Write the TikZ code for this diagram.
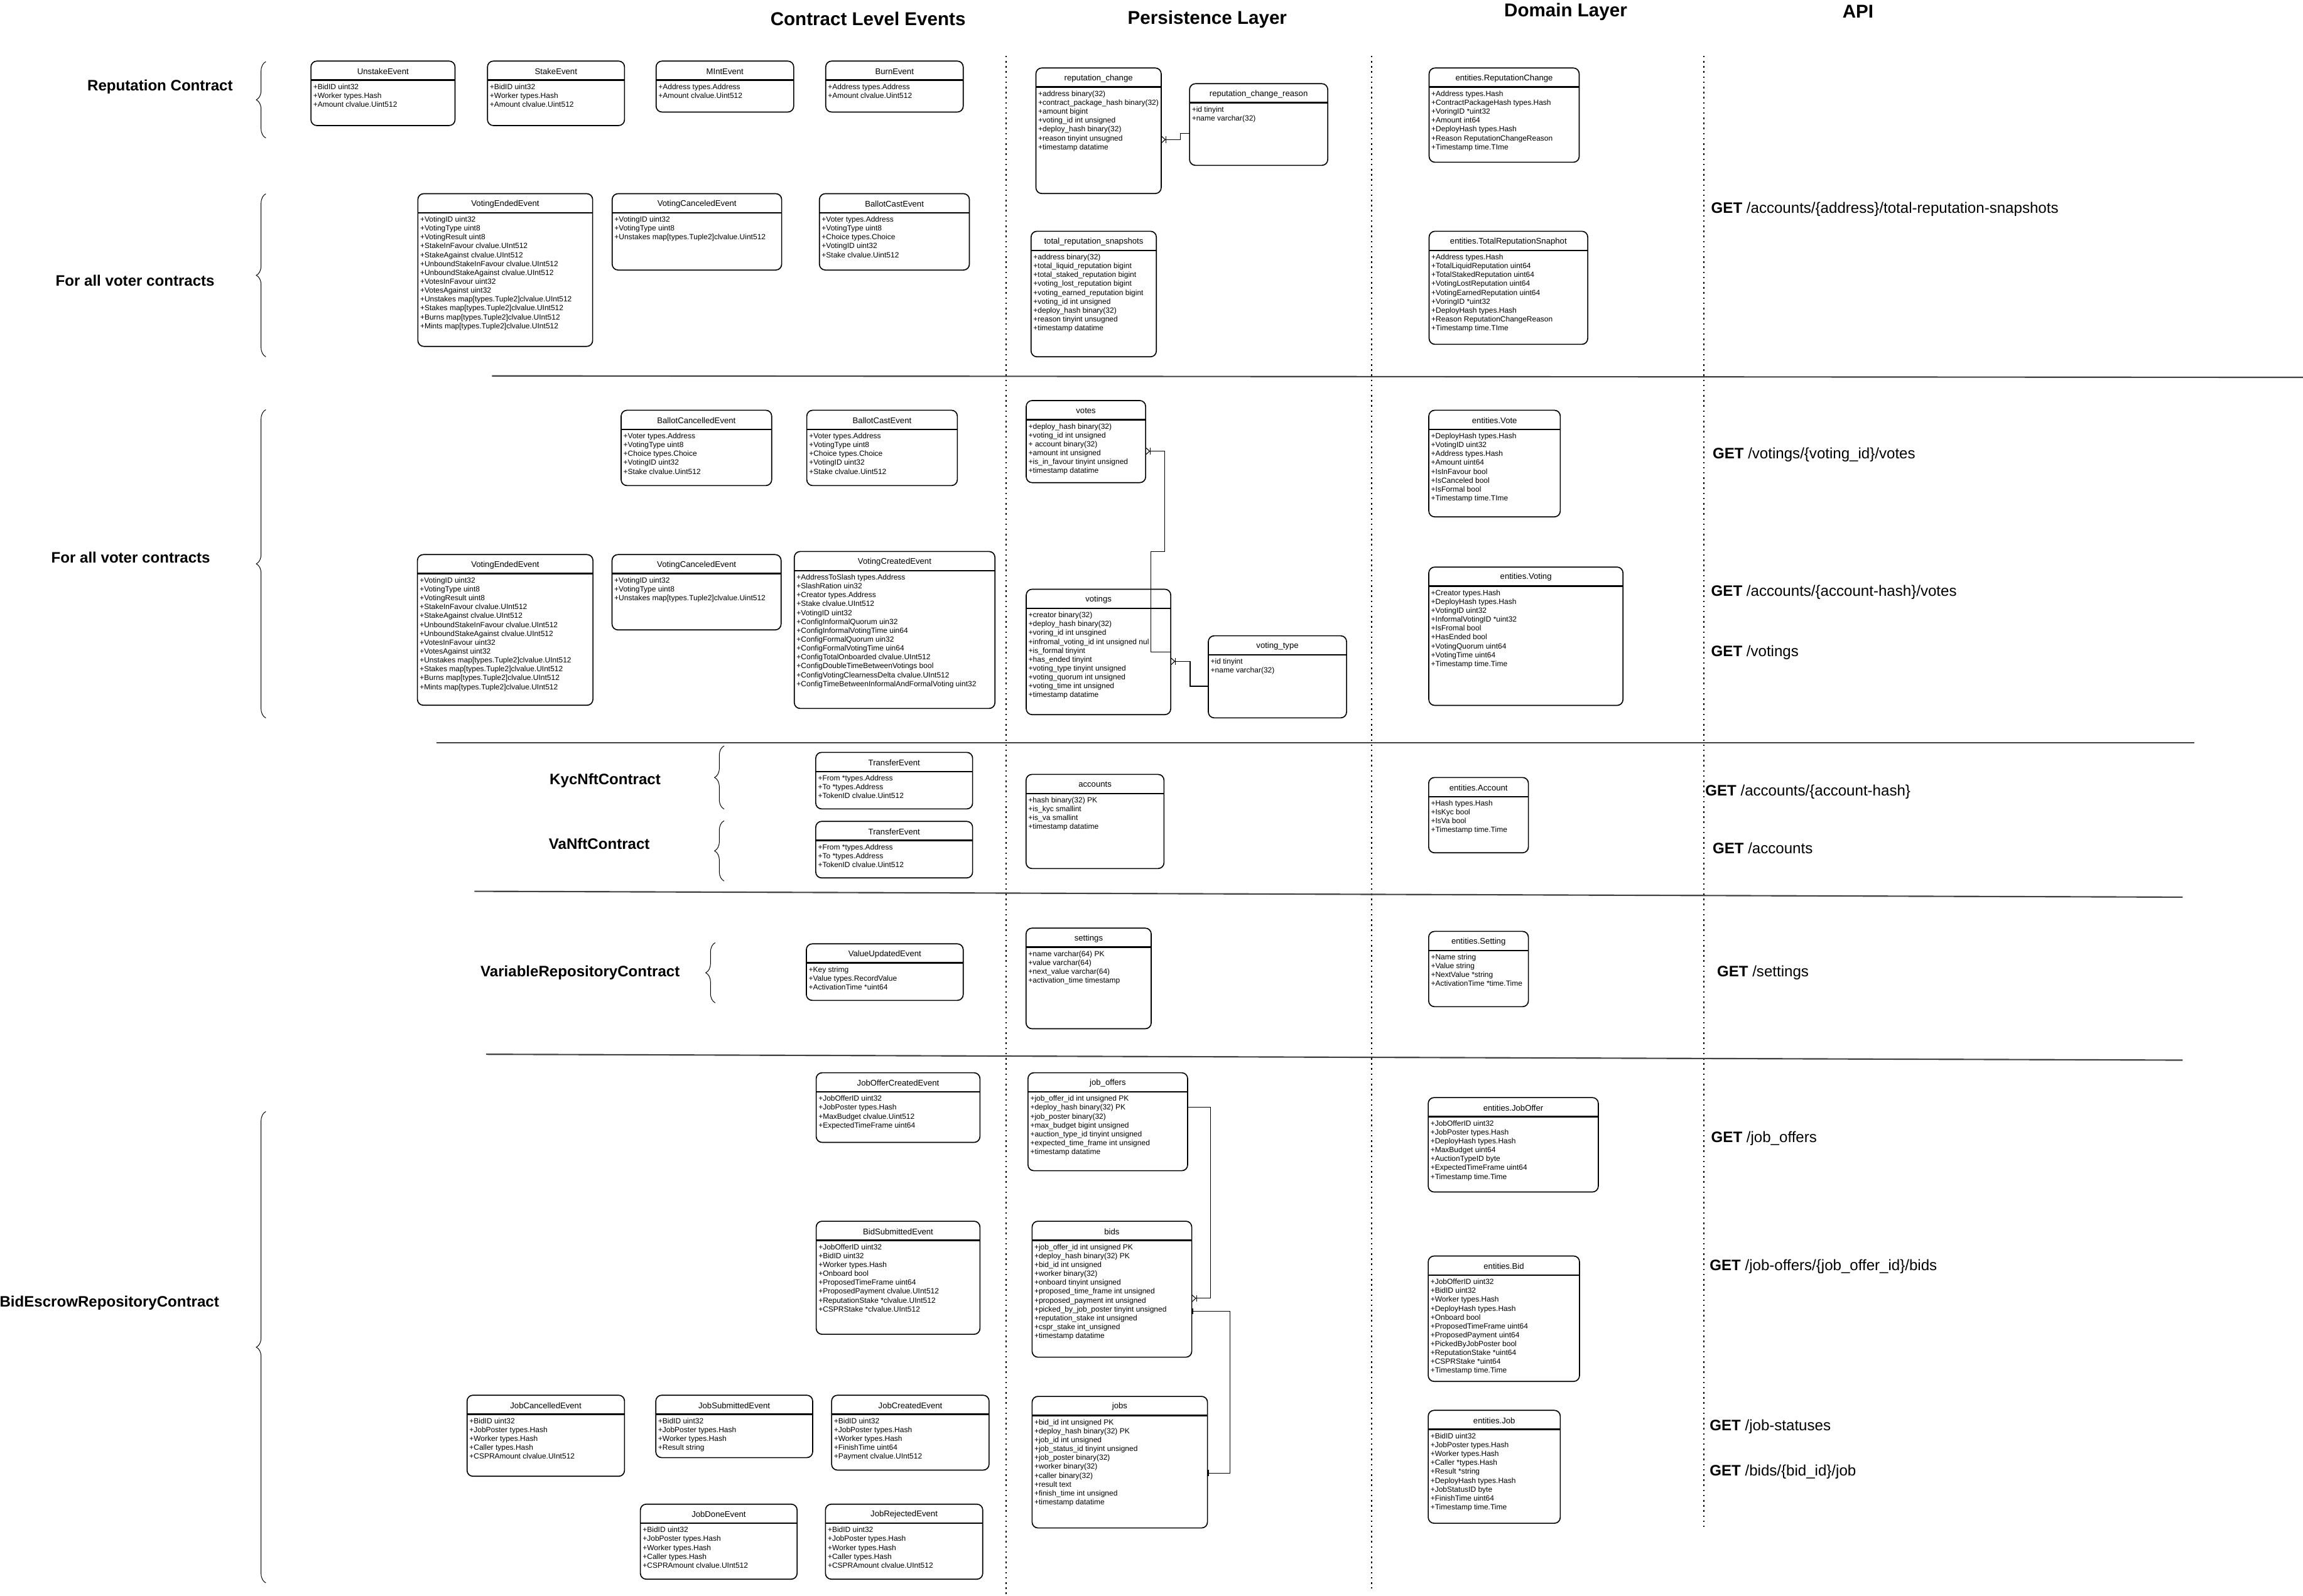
\documentclass[tikz,border=0pt]{standalone}
\usepackage{fontspec}
\setmainfont{Liberation Sans}
\usetikzlibrary{positioning, arrows.meta, decorations.pathreplacing}

% one event / table / entity box: name, x1, y1, x2, y2, title, fields
\newcommand{\entitybox}[7]{%
  \pgfmathsetmacro{\entw}{#4-#2}%
  \pgfmathsetmacro{\enth}{#5-#3}%
  \node (#1) [box, minimum width=\entw mm, minimum height=\enth mm] at (#2,#3) {};
  \draw[headline] ([yshift=-13mm]#1.north west) -- ([yshift=-13mm]#1.north east);
  \node (#1-title) [boxtitle] at ([yshift=-7mm]#1.north) {#6};
  \node (#1-fields) [boxfields] at ([xshift=1.5mm, yshift=-15.5mm]#1.north west) {#7};
}

\begin{document}
\begin{tikzpicture}[x=1mm, y=-1mm,
    box/.style={draw, fill=white, rounded corners=4mm, line width=2pt, inner sep=0pt, outer sep=0pt, anchor=north west},
    headline/.style={line width=3pt},
    boxtitle/.style={inner sep=0pt, font=\fontsize{16}{19}\selectfont},
    boxfields/.style={anchor=north west, align=left, inner sep=0pt, font=\fontsize{14.6}{17.2}\selectfont},
    layer/.style={font=\fontsize{36}{40}\selectfont\bfseries},
    grouplabel/.style={font=\fontsize{29.3}{33}\selectfont\bfseries},
    api/.style={anchor=west, inner sep=0pt, font=\fontsize{29.3}{33}\selectfont},
    grpbrace/.style={decorate, decoration={brace, amplitude=6.5mm}, line width=1.2pt},
    divider/.style={line width=2.6pt, black!75},
    column/.style={line width=2.4pt, dash pattern=on 1.1mm off 2.4mm},
    relation/.style={line width=1.3pt},
    tomany/.style={-{Bar[width=4.5mm]Straight Barb[reversed, length=2.5mm, width=4.5mm]}},
    onetoone/.style={{Bar[width=4mm]Bar[width=4mm]}-{Bar[width=4mm]Bar[width=4mm]}}]
    \useasboundingbox (0,0) rectangle (1568,1086.6);

    % Layer headers
    \node (hEvents) [layer] at (591,13) {Contract Level Events};
    \node (hPersist) [layer] at (822,13) {Persistence Layer};
    \node (hDomain) [layer] at (1066,8) {Domain Layer};
    \node (hApi) [layer] at (1265,8) {API};

    % Column separators and row dividers
    \draw[column] (685,38) -- (685,1086);
    \draw[column] (934,38) -- (934,1082);
    \draw[column] (1160,38) -- (1160,1040);
    \draw[divider] (335,256) -- (1568,257);
    \draw[divider] (297,506) -- (1494,506);
    \draw[divider] (323,607) -- (1486,611);
    \draw[divider] (331,718) -- (1486,722);

    % Contract groups
    \node (gRep) [grouplabel] at (109,59) {Reputation Contract};
    \node (gVoter1) [grouplabel] at (92,191) {For all voter contracts};
    \node (gVoter2) [grouplabel] at (89,379.5) {For all voter contracts};
    \node (gKyc) [grouplabel] at (412,531.5) {KycNftContract};
    \node (gVa) [grouplabel] at (408,574.5) {VaNftContract};
    \node (gVarRepo) [grouplabel] at (395,662.5) {VariableRepositoryContract};
    \node (gBidEscrow) [grouplabel] at (74.5,887.5) {BidEscrowRepositoryContract};
    \draw[grpbrace] (181,94) -- (181,42);
    \draw[grpbrace] (181,243) -- (181,132);
    \draw[grpbrace] (181,489) -- (181,279);
    \draw[grpbrace] (493,551) -- (493,508);
    \draw[grpbrace] (493,600) -- (493,559);
    \draw[grpbrace] (487,683) -- (487,642);
    \draw[grpbrace] (181,1078) -- (181,757);

    % Reputation contract events
    \entitybox{UnstakeEv}{211.7}{41.6}{309.8}{85.5}{UnstakeEvent}{+BidID uint32\\+Worker types.Hash\\+Amount clvalue.Uint512}
    \entitybox{StakeEv}{331.9}{41.6}{425.2}{85.5}{StakeEvent}{+BidID uint32\\+Worker types.Hash\\+Amount clvalue.Uint512}
    \entitybox{MintEv}{446.7}{41.6}{540.4}{76.3}{MIntEvent}{+Address types.Address\\+Amount clvalue.Uint512}
    \entitybox{BurnEv}{562.2}{41.6}{655.8}{76.3}{BurnEvent}{+Address types.Address\\+Amount clvalue.Uint512}

    % Voter contract events
    \entitybox{VotingEndedEv}{284.5}{131.9}{403.5}{235.9}{VotingEndedEvent}{+VotingID uint32\\+VotingType uint8\\+VotingResult uint8\\+StakeInFavour clvalue.UInt512\\+StakeAgainst clvalue.UInt512\\+UnboundStakeInFavour clvalue.UInt512\\+UnboundStakeAgainst clvalue.UInt512\\+VotesInFavour uint32\\+VotesAgainst uint32\\+Unstakes map[types.Tuple2]clvalue.UInt512\\+Stakes map[types.Tuple2]clvalue.UInt512\\+Burns map[types.Tuple2]clvalue.UInt512\\+Mints map[types.Tuple2]clvalue.UInt512}
    \entitybox{VotingCanceledEv}{416.8}{131.9}{532.2}{183.9}{VotingCanceledEvent}{+VotingID uint32\\+VotingType uint8\\+Unstakes map[types.Tuple2]clvalue.Uint512}
    \entitybox{BallotCastEv}{557.9}{131.9}{660}{183.9}{BallotCastEvent}{+Voter types.Address\\+VotingType uint8\\+Choice types.Choice\\+VotingID uint32\\+Stake clvalue.Uint512}
    \entitybox{BallotCancelledEvB}{422.9}{279.4}{525.4}{330.7}{BallotCancelledEvent}{+Voter types.Address\\+VotingType uint8\\+Choice types.Choice\\+VotingID uint32\\+Stake clvalue.Uint512}
    \entitybox{BallotCastEvB}{549.3}{279.4}{651.8}{330.7}{BallotCastEvent}{+Voter types.Address\\+VotingType uint8\\+Choice types.Choice\\+VotingID uint32\\+Stake clvalue.Uint512}
    \entitybox{VotingEndedEvB}{284.2}{377.7}{403.7}{480.3}{VotingEndedEvent}{+VotingID uint32\\+VotingType uint8\\+VotingResult uint8\\+StakeInFavour clvalue.UInt512\\+StakeAgainst clvalue.UInt512\\+UnboundStakeInFavour clvalue.UInt512\\+UnboundStakeAgainst clvalue.UInt512\\+VotesInFavour uint32\\+VotesAgainst uint32\\+Unstakes map[types.Tuple2]clvalue.UInt512\\+Stakes map[types.Tuple2]clvalue.UInt512\\+Burns map[types.Tuple2]clvalue.UInt512\\+Mints map[types.Tuple2]clvalue.UInt512}
    \entitybox{VotingCanceledEvB}{416.7}{377.7}{531.8}{429}{VotingCanceledEvent}{+VotingID uint32\\+VotingType uint8\\+Unstakes map[types.Tuple2]clvalue.Uint512}
    \entitybox{VotingCreatedEv}{540.8}{375.6}{677.4}{482.5}{VotingCreatedEvent}{+AddressToSlash types.Address\\+SlashRation uin32\\+Creator types.Address\\+Stake clvalue.UInt512\\+VotingID uint32\\+ConfigInformalQuorum uin32\\+ConfigInformalVotingTime uin64\\+ConfigFormalQuorum uin32\\+ConfigFormalVotingTime uin64\\+ConfigTotalOnboarded clvalue.UInt512\\+ConfigDoubleTimeBetweenVotings bool\\+ConfigVotingClearnessDelta clvalue.UInt512\\+ConfigTimeBetweenInformalAndFormalVoting uint32}

    % NFT and repository events
    \entitybox{TransferEvKyc}{555.4}{512.4}{662.2}{550.9}{TransferEvent}{+From *types.Address\\+To *types.Address\\+TokenID clvalue.Uint512}
    \entitybox{TransferEvVa}{555.4}{559.4}{662.2}{597.9}{TransferEvent}{+From *types.Address\\+To *types.Address\\+TokenID clvalue.Uint512}
    \entitybox{ValueUpdatedEv}{549}{642.8}{655.8}{681.3}{ValueUpdatedEvent}{+Key strimg\\+Value types.RecordValue\\+ActivationTime *uint64}

    % Bid escrow events
    \entitybox{JobOfferCreatedEv}{555.7}{730.6}{667.2}{778}{JobOfferCreatedEvent}{+JobOfferID uint32\\+JobPoster types.Hash\\+MaxBudget clvalue.Uint512\\+ExpectedTimeFrame uint64}
    \entitybox{BidSubmittedEv}{555.7}{831.7}{667.2}{908.7}{BidSubmittedEvent}{+JobOfferID uint32\\+BidID uint32\\+Worker types.Hash\\+Onboard bool\\+ProposedTimeFrame uint64\\+ProposedPayment clvalue.UInt512\\+ReputationStake *clvalue.UInt512\\+CSPRStake *clvalue.UInt512}
    \entitybox{JobCancelledEv}{318}{950.2}{425.2}{1005.4}{JobCancelledEvent}{+BidID uint32\\+JobPoster types.Hash\\+Worker types.Hash\\+Caller types.Hash\\+CSPRAmount clvalue.UInt512}
    \entitybox{JobSubmittedEv}{446.5}{950.2}{553.3}{992.7}{JobSubmittedEvent}{+BidID uint32\\+JobPoster types.Hash\\+Worker types.Hash\\+Result string}
    \entitybox{JobCreatedEv}{566.2}{950.2}{673.4}{1001.2}{JobCreatedEvent}{+BidID uint32\\+JobPoster types.Hash\\+Worker types.Hash\\+FinishTime uint64\\+Payment clvalue.UInt512}
    \entitybox{JobDoneEv}{436}{1024.4}{542.7}{1075.5}{JobDoneEvent}{+BidID uint32\\+JobPoster types.Hash\\+Worker types.Hash\\+Caller types.Hash\\+CSPRAmount clvalue.UInt512}
    \entitybox{JobRejectedEv}{562}{1024.4}{669.1}{1075.5}{JobRejectedEvent}{+BidID uint32\\+JobPoster types.Hash\\+Worker types.Hash\\+Caller types.Hash\\+CSPRAmount clvalue.UInt512}

    % Persistence layer tables
    \entitybox{repChange}{705.3}{46.3}{790.6}{131.8}{reputation\_change}{+address binary(32)\\+contract\_package\_hash binary(32)\\+amount bigint\\+voting\_id int unsigned\\+deploy\_hash binary(32)\\+reason tinyint unsugned\\+timestamp datatime}
    \entitybox{repReason}{809.9}{57}{904}{112.6}{reputation\_change\_reason}{+id tinyint\\+name varchar(32)}
    \entitybox{repSnapshots}{702}{157.5}{787.3}{243}{total\_reputation\_snapshots}{+address binary(32)\\+total\_liquid\_reputation bigint\\+total\_staked\_reputation bigint\\+voting\_lost\_reputation bigint\\+voting\_earned\_reputation bigint\\+voting\_id int unsigned\\+deploy\_hash binary(32)\\+reason tinyint unsugned\\+timestamp datatime}
    \entitybox{votes}{698.7}{272.8}{780}{328.7}{votes}{+deploy\_hash binary(32)\\+voting\_id int unsigned\\+ account binary(32)\\+amount int unsigned\\+is\_in\_favour tinyint unsigned\\+timestamp datatime}
    \entitybox{votings}{698.7}{401.3}{797.1}{486.7}{votings}{+creator binary(32)\\+deploy\_hash binary(32)\\+voring\_id int unsgined\\+infromal\_voting\_id int unsigned nul\\+is\_formal tinyint\\+has\_ended tinyint\\+voting\_type tinyint unsigned\\+voting\_quorum int unsigned\\+voting\_time int unsigned\\+timestamp datatime}
    \entitybox{votingType}{822.7}{433}{916.8}{488.9}{voting\_type}{+id tinyint\\+name varchar(32)}
    \entitybox{accounts}{698.6}{527.4}{792.5}{591.5}{accounts}{+hash binary(32) PK\\+is\_kyc smallint\\+is\_va smallint\\+timestamp datatime}
    \entitybox{settings}{698.6}{632.1}{783.8}{700.6}{settings}{+name varchar(64) PK\\+value varchar(64)\\+next\_value varchar(64)\\+activation\_time timestamp}
    \entitybox{jobOffers}{699.9}{730.6}{808.6}{797.3}{job\_offers}{+job\_offer\_id int unsigned PK\\+deploy\_hash binary(32) PK\\+job\_poster binary(32)\\+max\_budget bigint unsigned\\+auction\_type\_id tinyint unsigned\\+expected\_time\_frame int unsigned\\+timestamp datatime}
    \entitybox{bids}{702.7}{831.7}{811.4}{924.3}{bids}{+job\_offer\_id int unsigned PK\\+deploy\_hash binary(32) PK\\+bid\_id int unsigned\\+worker binary(32)\\+onboard tinyint unsigned\\+proposed\_time\_frame int unsigned\\+proposed\_payment int unsigned\\+picked\_by\_job\_poster tinyint unsigned\\+reputation\_stake int unsigned\\+cspr\_stake int\_unsigned\\+timestamp datatime}
    \entitybox{jobs}{702.7}{951}{822.1}{1040.6}{jobs}{+bid\_id int unsigned PK\\+deploy\_hash binary(32) PK\\+job\_id int unsigned\\+job\_status\_id tinyint unsigned\\+job\_poster binary(32)\\+worker binary(32)\\+caller binary(32)\\+result text\\+finish\_time int unsigned\\+timestamp datatime}

    % Table relations
    \draw[relation, tomany] ([yshift=-6mm]repReason.west) -- ++(-6.3,0) |- ([yshift=-6mm]repChange.east);
    \draw[relation, tomany] (votings.east) -- ++(-13.6,0) -- ++(0,-68.4) -- ++(9.3,0) |- ([yshift=-6.5mm]votes.east);
    \draw[relation, tomany] ([yshift=-6.4mm]votingType.west) -- ++(-12.4,0) |- ([yshift=-6.4mm]votings.east);
    \draw[relation, tomany] ([yshift=10mm]jobOffers.east) -- ++(15.7,0) |- ([yshift=-6.2mm]bids.east);
    \draw[relation, onetoone] ([yshift=-14.9mm]bids.east) -- ++(25.9,0) |- ([yshift=-7.4mm]jobs.east);

    % Domain layer entities
    \entitybox{entRepChange}{973}{46.3}{1075.2}{110.5}{entities.ReputationChange}{+Address types.Hash\\+ContractPackageHash types.Hash\\+VoringID *uint32\\+Amount int64\\+DeployHash types.Hash\\+Reason ReputationChangeReason\\+Timestamp time.TIme}
    \entitybox{entSnapshot}{973}{157.5}{1081}{234.5}{entities.TotalReputationSnaphot}{+Address types.Hash\\+TotalLiquidReputation uint64\\+TotalStakedReputation uint64\\+VotingLostReputation uint64\\+VotingEarnedReputation uint64\\+VoringID *uint32\\+DeployHash types.Hash\\+Reason ReputationChangeReason\\+Timestamp time.TIme}
    \entitybox{entVote}{972.8}{279.4}{1062.3}{352}{entities.Vote}{+DeployHash types.Hash\\+VotingID uint32\\+Address types.Hash\\+Amount uint64\\+IsInFavour bool\\+IsCanceled bool\\+IsFormal bool\\+Timestamp time.TIme}
    \entitybox{entVoting}{972.8}{386.2}{1105}{480.4}{entities.Voting}{+Creator types.Hash\\+DeployHash types.Hash\\+VotingID uint32\\+InformalVotingID *uint32\\+IsFromal bool\\+HasEnded bool\\+VotingQuorum uint64\\+VotingTime uint64\\+Timestamp time.Time}
    \entitybox{entAccount}{972.7}{529.5}{1040.6}{580.8}{entities.Account}{+Hash types.Hash\\+IsKyc bool\\+IsVa bool\\+Timestamp time.Time}
    \entitybox{entSetting}{972.7}{634.3}{1040.6}{685.6}{entities.Setting}{+Name string\\+Value string\\+NextValue *string\\+ActivationTime *time.Time}
    \entitybox{entJobOffer}{972.4}{747.5}{1088.2}{811.8}{entities.JobOffer}{+JobOfferID uint32\\+JobPoster types.Hash\\+DeployHash types.Hash\\+MaxBudget uint64\\+AuctionTypeID byte\\+ExpectedTimeFrame uint64\\+Timestamp time.Time}
    \entitybox{entBid}{972.4}{855.4}{1075.4}{940.8}{entities.Bid}{+JobOfferID uint32\\+BidID uint32\\+Worker types.Hash\\+DeployHash types.Hash\\+Onboard bool\\+ProposedTimeFrame uint64\\+ProposedPayment uint64\\+PickedByJobPoster bool\\+ReputationStake *uint64\\+CSPRStake *uint64\\+Timestamp time.Time}
    \entitybox{entJob}{972.4}{960.5}{1062.3}{1037.4}{entities.Job}{+BidID uint32\\+JobPoster types.Hash\\+Worker types.Hash\\+Caller *types.Hash\\+Result *string\\+DeployHash types.Hash\\+JobStatusID byte\\+FinishTime uint64\\+Timestamp time.Time}

    % API endpoints
    \node (apiSnapshots) [api] at (1165,142.5) {\textbf{GET} /accounts/\{address\}/total-reputation-snapshots};
    \node (apiVotes) [api] at (1166,309.5) {\textbf{GET} /votings/\{voting\_id\}/votes};
    \node (apiAccVotes) [api] at (1165,403.5) {\textbf{GET} /accounts/\{account-hash\}/votes};
    \node (apiVotings) [api] at (1165,444.5) {\textbf{GET} /votings};
    \node (apiAccount) [api] at (1161,539.5) {\textbf{GET} /accounts/\{account-hash\}};
    \node (apiAccounts) [api] at (1166,577.5) {\textbf{GET} /accounts};
    \node (apiSettings) [api] at (1169,662.5) {\textbf{GET} /settings};
    \node (apiJobOffers) [api] at (1165,775.5) {\textbf{GET} /job\_offers};
    \node (apiBids) [api] at (1164,862.5) {\textbf{GET} /job-offers/\{job\_offer\_id\}/bids};
    \node (apiStatuses) [api] at (1164,971.5) {\textbf{GET} /job-statuses};
    \node (apiBidJob) [api] at (1164,1002.5) {\textbf{GET} /bids/\{bid\_id\}/job};
\end{tikzpicture}
\end{document}
